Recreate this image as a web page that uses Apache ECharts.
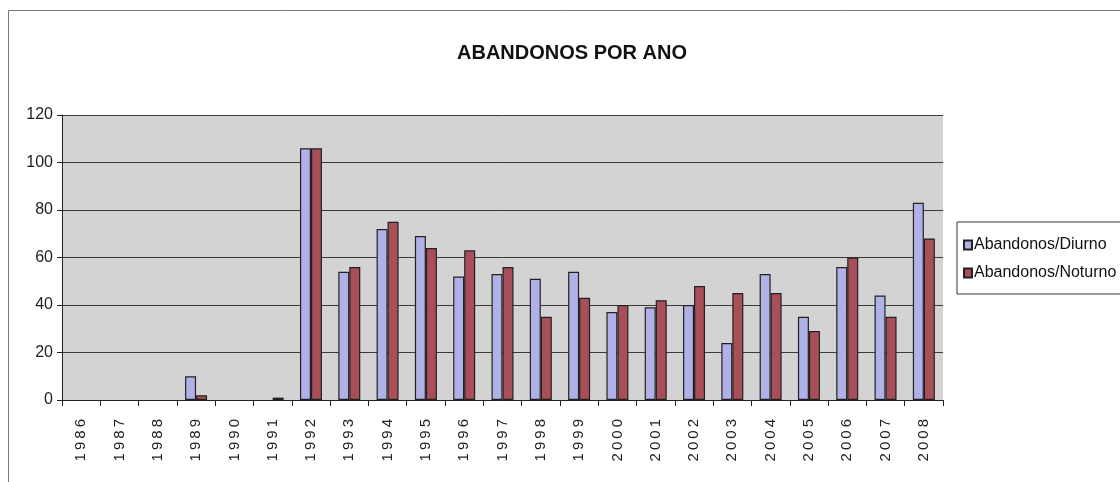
<!DOCTYPE html>
<html>
<head>
<meta charset="utf-8">
<script src="https://cdn.jsdelivr.net/npm/echarts@6/dist/echarts.min.js"></script>
<style>
html,body{margin:0;padding:0;background:#fff;}
#c{width:1120px;height:482px;}
</style>
</head>
<body>
<div id="c"></div>
<script>
const years = ['1986','1987','1988','1989','1990','1991','1992','1993','1994','1995','1996','1997','1998','1999','2000','2001','2002','2003','2004','2005','2006','2007','2008'];
const diurno = [null,null,null,10,null,null,106,54,72,69,52,53,51,54,37,39,40,24,53,35,56,44,83];
const noturno = [null,null,null,2,null,1,106,56,75,64,63,56,35,43,40,42,48,45,45,29,60,35,68];
const yTicks = [0,20,40,60,80,100,120];
const seriesNames = ['Abandonos/Diurno','Abandonos/Noturno'];
const titleText = 'ABANDONOS POR ANO';

const font = "'Liberation Sans', Arial, sans-serif";
const chart = echarts.init(document.getElementById('c'), null, {renderer:'canvas'});
chart.setOption({
  animation:false,
  backgroundColor:'#ffffff',
  graphic:[{
    type:'rect', silent:true, z:-10,
    shape:{x:8.5,y:10.5,width:1200,height:600},
    style:{fill:'none',stroke:'#777',lineWidth:1}
  }],
  title:{
    text:titleText, left:567, top:38, textAlign:'center',
    textStyle:{fontFamily:font,fontWeight:'bold',fontSize:20,color:'#111'}
  },
  legend:{
    orient:'vertical', left:957, top:222, padding:[15,6,13,6],
    borderColor:'#333', borderWidth:1, backgroundColor:'#fff',
    itemWidth:8, itemHeight:9, itemGap:12, icon:'rect',
    textStyle:{fontFamily:font,fontSize:16,color:'#111',padding:[0,0,0,-3]},
    data:seriesNames
  },
  grid:{left:62,right:177,top:115,bottom:82,show:true,backgroundColor:'#d3d3d3',borderWidth:0},
  xAxis:{
    type:'category', data:years, boundaryGap:true,
    axisLine:{lineStyle:{color:'#222',width:1}},
    axisTick:{show:true,length:6,alignWithLabel:false,lineStyle:{color:'#222'}},
    axisLabel:{rotate:90,interval:0,margin:19,fontFamily:font,fontSize:15,color:'#222',
      formatter:v=>v.split('').join('\u2009')}
  },
  yAxis:{
    type:'value', min:0, max:120, interval:20,
    axisLine:{show:true,lineStyle:{color:'#222'}},
    axisTick:{show:true,length:5,lineStyle:{color:'#222'}},
    axisLabel:{fontFamily:font,fontSize:16,color:'#222',margin:9,
      formatter:v=>yTicks.includes(v)?String(v):''},
    splitLine:{lineStyle:{color:'#3a3a3a',width:1}}
  },
  series:[
    {name:seriesNames[0],type:'bar',data:diurno,barWidth:11,barGap:'0%',
     itemStyle:{color:'#b0b1e6',borderColor:'#222',borderWidth:1.2}},
    {name:seriesNames[1],type:'bar',data:noturno,barWidth:11,barGap:'0%',
     itemStyle:{color:'#a84f59',borderColor:'#222',borderWidth:1.2}}
  ]
});
</script>
</body>
</html>
